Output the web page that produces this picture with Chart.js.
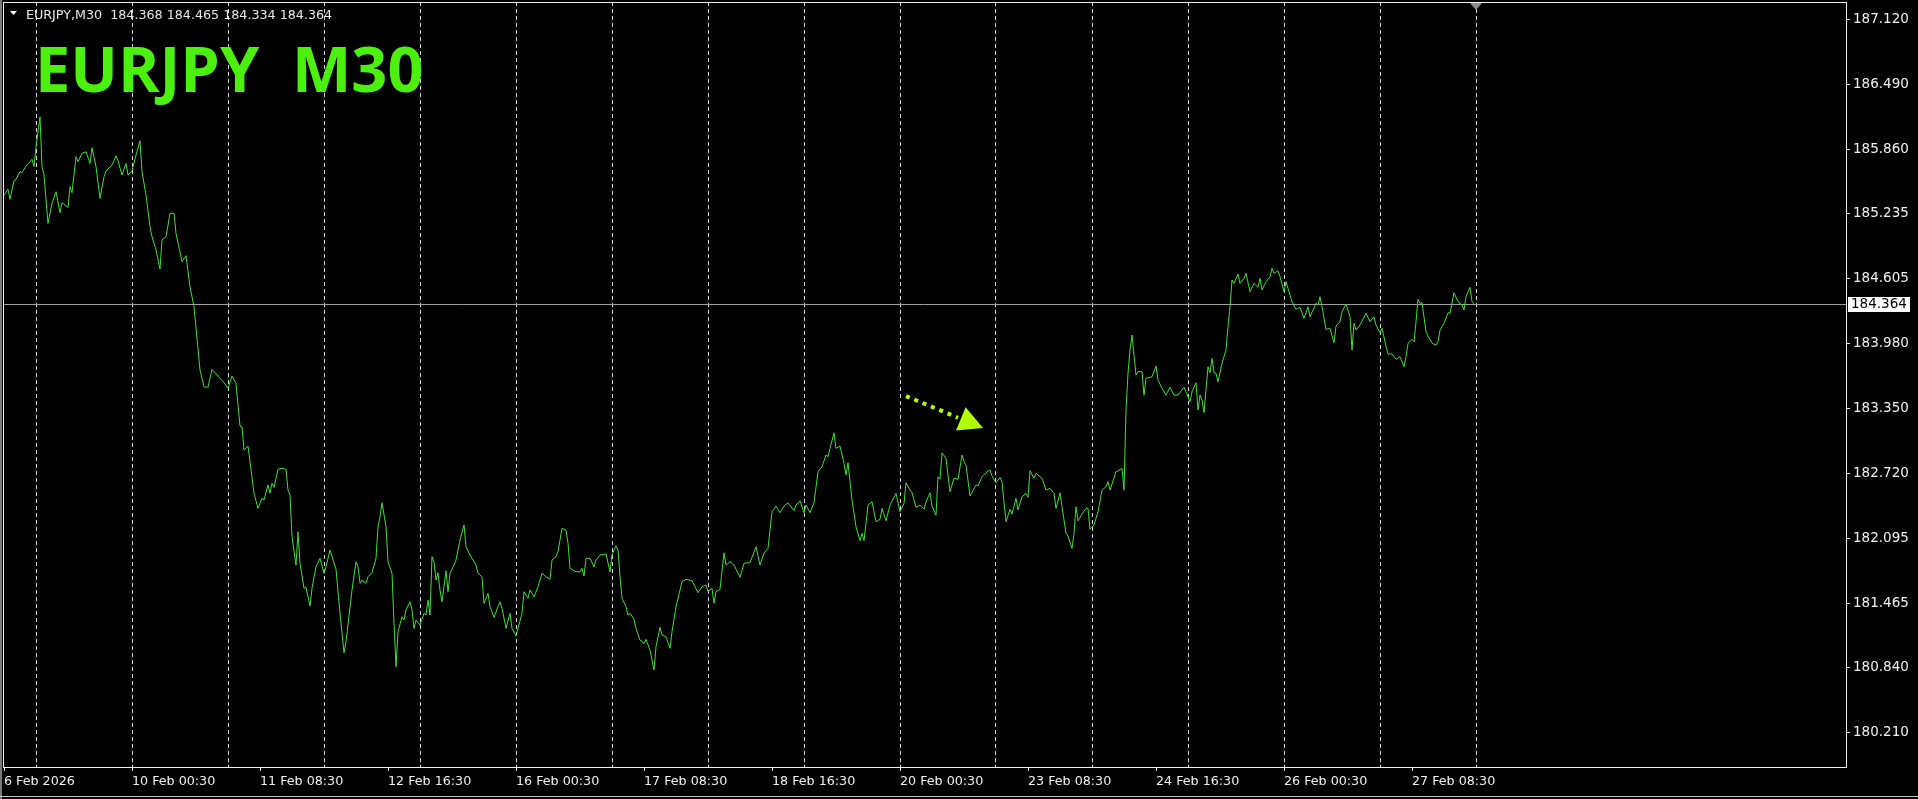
<!DOCTYPE html>
<html lang="en">
<head>
  <meta charset="UTF-8" />
  <title>EURJPY M30</title>
  <script src="https://cdn.jsdelivr.net/npm/chart.js"></script>
  <style>
    html, body {
      margin: 0;
      padding: 0;
      background: #000;
      overflow: hidden;
    }

    .wrap {
      position: relative;
      width: 1918px;
      height: 799px;
    }
  </style>
</head>
<body>
  <div class="wrap">
    <canvas id="priceChart"></canvas>
  </div>

  <script>
    // header line and big caption
    const symbolInfo = "EURJPY,M30  184.368 184.465 184.334 184.364";
    const caption = "EURJPY  M30";
    const lastClose = 184.364;

    // M30 bar index counted from 6 Feb 16:30, and close
    const bars = [
      0, 2, 3, 5, 6, 8, 9, 11, 14, 15, 16, 18, 19, 20, 22, 24, 26, 28, 29, 32,
      33, 34, 36, 37, 39, 41, 43, 44, 46, 48, 50, 51, 54, 56, 57, 59, 61, 62, 64, 66,
      68, 69, 71, 73, 74, 76, 78, 79, 81, 83, 85, 86, 89, 91, 93, 95, 98, 100, 102, 104,
      108, 110, 112, 114, 116, 118, 119, 120, 122, 123, 125, 127, 129, 130, 132, 133, 134, 135, 137, 139,
      141, 142, 143, 144, 146, 147, 148, 150, 151, 153, 154, 156, 158, 160, 161, 163, 166, 168, 170, 171,
      174, 176, 177, 178, 179, 181, 182, 184, 186, 187, 188, 189, 191, 192, 194, 195, 196, 197, 199, 200,
      201, 203, 204, 205, 206, 208, 210, 211, 212, 213, 214, 215, 216, 217, 218, 219, 221, 222, 223, 225,
      226, 228, 230, 231, 233, 236, 237, 239, 240, 242, 243, 245, 247, 248, 249, 251, 253, 254, 256, 257,
      259, 260, 262, 263, 265, 267, 269, 271, 273, 274, 276, 277, 279, 281, 282, 283, 286, 288, 289, 290,
      291, 293, 295, 296, 298, 301, 303, 304, 306, 307, 308, 309, 311, 312, 313, 315, 316, 318, 320, 321,
      323, 325, 326, 328, 329, 331, 333, 334, 336, 339, 341, 344, 347, 349, 351, 352, 354, 355, 356, 358,
      360, 361, 363, 365, 368, 370, 373, 376, 378, 380, 382, 384, 386, 388, 390, 392, 395, 396, 398, 400,
      401, 403, 405, 407, 409, 411, 412, 413, 415, 416, 418, 420, 421, 422, 424, 426, 428, 429, 430, 431,
      432, 434, 436, 438, 439, 441, 443, 446, 448, 450, 451, 453, 454, 456, 458, 460, 461, 463, 464, 466,
      467, 468, 469, 471, 473, 475, 477, 479, 480, 481, 483, 486, 487, 489, 491, 493, 494, 496, 498, 499,
      501, 503, 504, 506, 507, 509, 511, 512, 513, 515, 516, 519, 521, 523, 525, 526, 528, 529, 531, 532,
      534, 535, 536, 537, 539, 541, 542, 543, 545, 547, 549, 551, 552, 553, 556, 557, 559, 560, 561, 562,
      563, 564, 565, 566, 567, 569, 570, 571, 574, 576, 577, 579, 581, 583, 585, 587, 590, 591, 593, 594,
      596, 597, 598, 599, 600, 602, 603, 604, 605, 606, 607, 609, 611, 612, 613, 614, 615, 617, 618, 620,
      621, 623, 625, 627, 628, 629, 631, 633, 634, 635, 637, 638, 640, 641, 642, 644, 646, 648, 650, 652,
      653, 656, 657, 658, 659, 661, 663, 665, 666, 668, 669, 671, 673, 674, 675, 676, 678, 681, 683, 685,
      686, 688, 689, 691, 692, 694, 696, 698, 700, 701, 702, 704, 705, 706, 707, 708, 709, 711, 712, 714,
      716, 717, 718, 720, 722, 723, 725, 727, 729, 730, 731, 733, 734, 735
    ];

    const closes = [
      185.416, 185.471, 185.375, 185.555, 185.568, 185.642, 185.632, 185.697, 185.762, 185.690,
      185.884, 186.174, 185.690, 185.610, 185.142, 185.336, 185.448, 185.245, 185.342, 185.297,
      185.497, 185.439, 185.787, 185.739, 185.820, 185.835, 185.723, 185.874, 185.690, 185.384,
      185.593, 185.649, 185.707, 185.794, 185.748, 185.610, 185.723, 185.610, 185.651, 185.803,
      185.942, 185.642, 185.416, 185.109, 185.013, 184.884, 184.700, 184.981, 185.013, 185.239,
      185.239, 185.045, 184.771, 184.829, 184.528, 184.335, 183.722, 183.560, 183.555, 183.729,
      183.642, 183.599, 183.545, 183.664, 183.593, 183.180, 183.173, 182.948, 182.986, 182.834,
      182.528, 182.383, 182.480, 182.464, 182.609, 182.528, 182.625, 182.586, 182.761, 182.770,
      182.761, 182.560, 182.512, 182.108, 181.834, 182.157, 181.851, 181.609, 181.618, 181.437,
      181.609, 181.818, 181.899, 181.754, 181.818, 181.979, 181.793, 181.367, 180.985, 181.092,
      181.592, 181.866, 181.818, 181.657, 181.689, 181.657, 181.721, 181.760, 181.899, 182.205,
      182.302, 182.437, 182.205, 181.866, 181.754, 181.270, 180.850, 181.189, 181.334, 181.302,
      181.399, 181.479, 181.399, 181.221, 181.302, 181.253, 181.367, 181.350, 181.495, 181.350,
      181.915, 181.866, 181.689, 181.760, 181.592, 181.479, 181.779, 181.576, 181.754, 181.834,
      181.883, 182.076, 182.222, 182.011, 181.931, 181.834, 181.754, 181.721, 181.463, 181.560,
      181.431, 181.328, 181.431, 181.479, 181.415, 181.221, 181.367, 181.221, 181.147, 181.221,
      181.367, 181.576, 181.512, 181.592, 181.527, 181.624, 181.754, 181.721, 181.696, 181.883,
      181.915, 181.963, 182.190, 182.173, 182.044, 181.802, 181.769, 181.769, 181.802, 181.728,
      181.899, 181.899, 181.818, 181.883, 181.931, 181.941, 181.769, 181.931, 182.021, 181.979,
      181.721, 181.512, 181.431, 181.350, 181.367, 181.309, 181.221, 181.108, 181.076, 181.115,
      181.011, 180.818, 181.043, 181.231, 181.157, 181.140, 181.028, 181.189, 181.431, 181.673,
      181.696, 181.682, 181.566, 181.624, 181.641, 181.576, 181.609, 181.463, 181.576, 181.599,
      181.953, 181.834, 181.866, 181.834, 181.715, 181.851, 181.857, 182.011, 181.834, 181.948,
      181.996, 182.350, 182.405, 182.341, 182.405, 182.437, 182.360, 182.415, 182.457, 182.341,
      182.415, 182.341, 182.437, 182.737, 182.786, 182.899, 182.883, 182.964, 183.115, 182.964,
      182.986, 182.819, 182.706, 182.825, 182.464, 182.205, 182.070, 182.141, 182.070, 182.238,
      182.415, 182.447, 182.253, 182.277, 182.383, 182.263, 182.415, 182.528, 182.350, 182.432,
      182.631, 182.560, 182.534, 182.393, 182.415, 182.374, 182.447, 182.534, 182.405, 182.318,
      182.689, 182.664, 182.921, 182.867, 182.544, 182.674, 182.664, 182.899, 182.834, 182.802,
      182.502, 182.609, 182.599, 182.689, 182.728, 182.754, 182.696, 182.631, 182.683, 182.641,
      182.253, 182.374, 182.328, 182.480, 182.367, 182.495, 182.528, 182.490, 182.747, 182.674,
      182.722, 182.674, 182.560, 182.577, 182.528, 182.383, 182.534, 182.399, 182.141, 182.115,
      181.996, 182.141, 182.399, 182.263, 182.328, 182.383, 182.383, 182.180, 182.222, 182.350,
      182.560, 182.592, 182.641, 182.560, 182.737, 182.747, 182.770, 182.560, 183.335, 183.690,
      183.916, 184.061, 183.867, 183.674, 183.706, 183.706, 183.480, 183.642, 183.657, 183.761,
      183.625, 183.545, 183.480, 183.555, 183.480, 183.480, 183.555, 183.512, 183.415, 183.512,
      183.599, 183.335, 183.480, 183.432, 183.309, 183.754, 183.696, 183.835, 183.696, 183.690,
      183.609, 183.787, 183.916, 184.141, 184.335, 184.593, 184.561, 184.651, 184.561, 184.610,
      184.658, 184.480, 184.561, 184.523, 184.610, 184.497, 184.577, 184.625, 184.707, 184.658,
      184.683, 184.625, 184.480, 184.577, 184.513, 184.383, 184.310, 184.329, 184.223, 184.335,
      184.238, 184.368, 184.351, 184.432, 184.335, 184.116, 184.126, 183.986, 184.148, 184.190,
      184.286, 184.361, 184.238, 183.916, 184.174, 184.109, 184.158, 184.271, 184.190, 184.238,
      184.158, 184.083, 184.126, 183.954, 183.877, 183.877, 183.826, 183.851, 183.754, 183.851,
      183.981, 184.019, 183.996, 184.190, 184.407, 184.368, 184.374, 184.093, 184.051, 183.981,
      183.964, 183.996, 184.109, 184.174, 184.277, 184.271, 184.470, 184.383, 184.351, 184.303,
      184.432, 184.523, 184.383, 184.364
    ];

    // time scale labels (every 64 bars) and day separators (every 48 bars)
    const labelBars = [0, 64, 128, 192, 256, 320, 384, 448, 512, 576, 640, 704];
    const labelTexts = [
      "6 Feb 2026", "10 Feb 00:30", "11 Feb 08:30", "12 Feb 16:30", "16 Feb 00:30", "17 Feb 08:30",
      "18 Feb 16:30", "20 Feb 00:30", "23 Feb 08:30", "24 Feb 16:30", "26 Feb 00:30", "27 Feb 08:30"
    ];
    const gridBars = [16, 64, 112, 160, 208, 256, 304, 352, 400, 448, 496, 544, 592, 640, 688, 736];
    const shiftBar = 736;

    // price scale
    const priceTicks = [187.120, 186.490, 185.860, 185.235, 184.605, 183.980, 183.350, 182.720, 182.095, 181.465, 180.840, 180.210];

    // dotted arrow drawn on the chart: [bar, price]
    const arrowFrom = [451, 183.470];
    const arrowTo = [489.5, 183.160];

    const smallFont = "12.7px 'DejaVu Sans'";
    const priceFont = "13.5px 'DejaVu Sans'";

    const terminalOverlay = {
      id: "terminalOverlay",
      beforeDatasetsDraw(chart) {
        const { ctx, chartArea: a, scales } = chart;
        const y = Math.round(scales.y.getPixelForValue(lastClose)) + 0.5;
        ctx.save();
        ctx.strokeStyle = "#a0a0a0";
        ctx.lineWidth = 1;
        ctx.beginPath();
        ctx.moveTo(a.left, y);
        ctx.lineTo(a.right, y);
        ctx.stroke();
        ctx.restore();
      },
      afterDraw(chart) {
        const { ctx, chartArea: a, scales } = chart;
        ctx.save();

        // frame
        ctx.strokeStyle = "#f0f0f0";
        ctx.lineWidth = 1;
        ctx.strokeRect(a.left + 0.5, a.top + 0.5, a.right - a.left, a.bottom - a.top);

        // window edge
        ctx.fillStyle = "#7a7a7a";
        ctx.fillRect(0, 0, 2, chart.height);
        ctx.fillStyle = "#c8c8c8";
        ctx.fillRect(0, chart.height - 3, chart.width, 1);

        // header
        ctx.fillStyle = "#ffffff";
        ctx.beginPath();
        ctx.moveTo(10, 11);
        ctx.lineTo(17, 11);
        ctx.lineTo(13.5, 15);
        ctx.closePath();
        ctx.fill();
        ctx.font = smallFont;
        ctx.textBaseline = "alphabetic";
        ctx.textAlign = "left";
        ctx.fillStyle = "#e8e8e8";
        ctx.fillText(symbolInfo, 26, 19);

        // caption
        ctx.font = "bold 63px 'Open Sans'";
        ctx.fillStyle = "#4cf00f";
        ctx.fillText(caption, 35, 92);

        // shift marker
        const sx = scales.x.getPixelForValue(shiftBar);
        ctx.fillStyle = "#8c8c8c";
        ctx.beginPath();
        ctx.moveTo(sx - 6, a.top + 1);
        ctx.lineTo(sx + 6, a.top + 1);
        ctx.lineTo(sx, a.top + 8);
        ctx.closePath();
        ctx.fill();

        // arrow
        const x0 = scales.x.getPixelForValue(arrowFrom[0]);
        const y0 = scales.y.getPixelForValue(arrowFrom[1]);
        const x1 = scales.x.getPixelForValue(arrowTo[0]);
        const y1 = scales.y.getPixelForValue(arrowTo[1]);
        const len = Math.hypot(x1 - x0, y1 - y0);
        const ux = (x1 - x0) / len, uy = (y1 - y0) / len;
        const head = 24, half = 12.5;
        const bx = x1 - ux * head, by = y1 - uy * head;
        ctx.strokeStyle = "#b2ff00";
        ctx.fillStyle = "#b2ff00";
        ctx.lineWidth = 4;
        ctx.setLineDash([4, 5]);
        ctx.beginPath();
        ctx.moveTo(x0, y0);
        ctx.lineTo(bx - ux * 3, by - uy * 3);
        ctx.stroke();
        ctx.setLineDash([]);
        ctx.beginPath();
        ctx.moveTo(x1, y1);
        ctx.lineTo(bx - uy * half, by + ux * half);
        ctx.lineTo(bx + uy * half, by - ux * half);
        ctx.closePath();
        ctx.fill();

        // last price box
        const py = Math.round(scales.y.getPixelForValue(lastClose));
        ctx.fillStyle = "#ffffff";
        ctx.fillRect(a.right + 2, py - 7, 62, 15);
        ctx.fillStyle = "#000000";
        ctx.font = priceFont;
        ctx.textBaseline = "middle";
        ctx.fillText(lastClose.toFixed(3), a.right + 5, py + 0.5);

        ctx.restore();
      }
    };

    const ctx = document.getElementById("priceChart").getContext("2d");

    const priceChart = new Chart(ctx, {
      type: "line",
      data: {
        datasets: [
          {
            label: "EURJPY,M30",
            data: bars.map((b, i) => ({ x: b, y: closes[i] })),
            borderColor: "#3fe032",
            borderWidth: 1,
            pointRadius: 0,
            tension: 0,
            fill: false,
            xAxisID: "x",
            yAxisID: "y"
          }
        ]
      },
      options: {
        responsive: true,
        maintainAspectRatio: false,
        animation: false,
        layout: {
          padding: { left: 3, top: 2, right: 0, bottom: 0 }
        },
        plugins: {
          legend: { display: false },
          tooltip: { enabled: false }
        },
        scales: {
          x: {
            type: "linear",
            position: "bottom",
            min: -0.5,
            max: 921,
            afterBuildTicks: s => { s.ticks = labelBars.map(v => ({ value: v })); },
            afterFit: s => {
              s.height = 32;
              s.paddingLeft = 0;
              s.paddingRight = 0;
            },
            grid: {
              drawOnChartArea: false,
              drawTicks: true,
              tickLength: 4,
              tickColor: "#f0f0f0",
              color: "#f0f0f0"
            },
            border: { display: false },
            ticks: {
              autoSkip: false,
              maxRotation: 0,
              align: "start",
              padding: 3,
              color: "#f0f0f0",
              font: { family: "'DejaVu Sans'", size: 12.7 },
              callback: (v, i) => labelTexts[i]
            }
          },
          days: {
            type: "linear",
            position: "bottom",
            min: -0.5,
            max: 921,
            afterBuildTicks: s => { s.ticks = gridBars.map(v => ({ value: v })); },
            afterFit: s => {
              s.height = 0;
              s.paddingLeft = 0;
              s.paddingRight = 0;
            },
            ticks: { display: false },
            grid: {
              drawTicks: false,
              color: "#d8d8d8",
              lineWidth: 1
            },
            border: { display: false, dash: [4, 3] }
          },
          y: {
            type: "linear",
            position: "right",
            min: 179.879,
            max: 187.285,
            afterBuildTicks: s => { s.ticks = priceTicks.map(v => ({ value: v })); },
            afterFit: s => {
              s.width = 72;
              s.paddingTop = 0;
              s.paddingBottom = 0;
            },
            grid: {
              drawOnChartArea: false,
              drawTicks: true,
              tickLength: 4,
              tickColor: "#f0f0f0"
            },
            border: { display: false },
            ticks: {
              padding: 3,
              color: "#f0f0f0",
              font: { family: "'DejaVu Sans'", size: 13.5 },
              callback: v => v.toFixed(3)
            }
          }
        }
      },
      plugins: [terminalOverlay]
    });
  </script>
</body>
</html>
